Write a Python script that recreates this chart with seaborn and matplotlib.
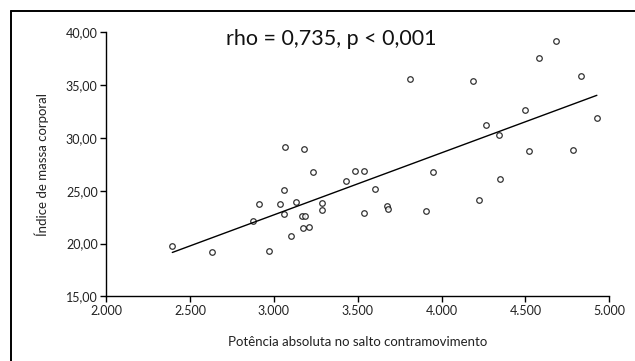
import matplotlib
matplotlib.use("Agg")
import matplotlib.pyplot as plt
import seaborn as sns
import pandas as pd
from matplotlib.ticker import FuncFormatter, MultipleLocator
from matplotlib.lines import Line2D

# potência absoluta (W) e IMC
potencia = [2395, 2632, 2973, 2874, 2912, 3067, 3178, 3232, 3059, 3037, 3061,
            3130, 3101, 3166, 3186, 3176, 3212, 3287, 3287, 3428, 3482, 3537,
            3601, 3537, 3675, 3683, 3810, 3905, 3951, 4185, 4223, 4263, 4340,
            4348, 4497, 4521, 4582, 4684, 4785, 4833, 4926]
imc = [19.8, 19.2, 19.3, 22.1, 23.7, 29.1, 29.0, 26.8, 25.1, 23.7, 22.8,
       23.9, 20.7, 22.6, 22.6, 21.5, 21.6, 23.8, 23.2, 25.9, 26.9, 26.9,
       25.2, 22.9, 23.6, 23.3, 35.6, 23.1, 26.8, 35.4, 24.1, 31.2, 30.3,
       26.1, 32.6, 28.8, 37.6, 39.2, 28.9, 35.9, 31.9]
anotacao = "rho = 0,735, p < 0,001"
x_label = "Potência absoluta no salto contramovimento"
y_label = "Índice de massa corporal"

df = pd.DataFrame({"potencia": potencia, "imc": imc})

sns.set_theme(style="ticks")
plt.rcParams["font.family"] = ["Lato", "DejaVu Sans"]

fig = plt.figure(figsize=(6.35, 3.61), dpi=100)
ax = fig.add_axes([0.167, 0.179, 0.7925, 0.7315])

sns.regplot(data=df, x="potencia", y="imc", ci=None, ax=ax,
            scatter_kws=dict(s=16, facecolors="white", edgecolors="black", linewidths=0.9),
            line_kws=dict(color="black", lw=1.0))

ax.set_xlim(2000, 5000)
ax.set_ylim(15, 40)
ax.xaxis.set_major_locator(MultipleLocator(500))
ax.yaxis.set_major_locator(MultipleLocator(5))
ax.xaxis.set_major_formatter(FuncFormatter(lambda v, p: f"{int(v):,}".replace(",", ".")))
ax.yaxis.set_major_formatter(FuncFormatter(lambda v, p: f"{v:.2f}".replace(".", ",")))
ax.tick_params(axis="both", direction="out", length=4, width=1, color="black",
               labelsize=9, labelcolor="#222222", pad=2)
for s in ["left", "bottom"]:
    ax.spines[s].set_color("black")
    ax.spines[s].set_linewidth(1)
sns.despine(ax=ax)

ax.set_xlabel(x_label, fontsize=9.5, labelpad=14, color="#222222")
ax.set_ylabel(y_label, fontsize=9.5, labelpad=12, color="#222222")

fig.text(0.521, 0.893, anotacao, ha="center", va="center", fontsize=15.5, color="#111111")

# moldura (só topo e esquerda visíveis no recorte)
fig.add_artist(Line2D([0.0173, 0.0173], [0, 0.97], transform=fig.transFigure, color="black", lw=1.4))
fig.add_artist(Line2D([0.0173, 1.0], [0.97, 0.97], transform=fig.transFigure, color="black", lw=1.4))

fig.savefig("out.png", dpi=100)
